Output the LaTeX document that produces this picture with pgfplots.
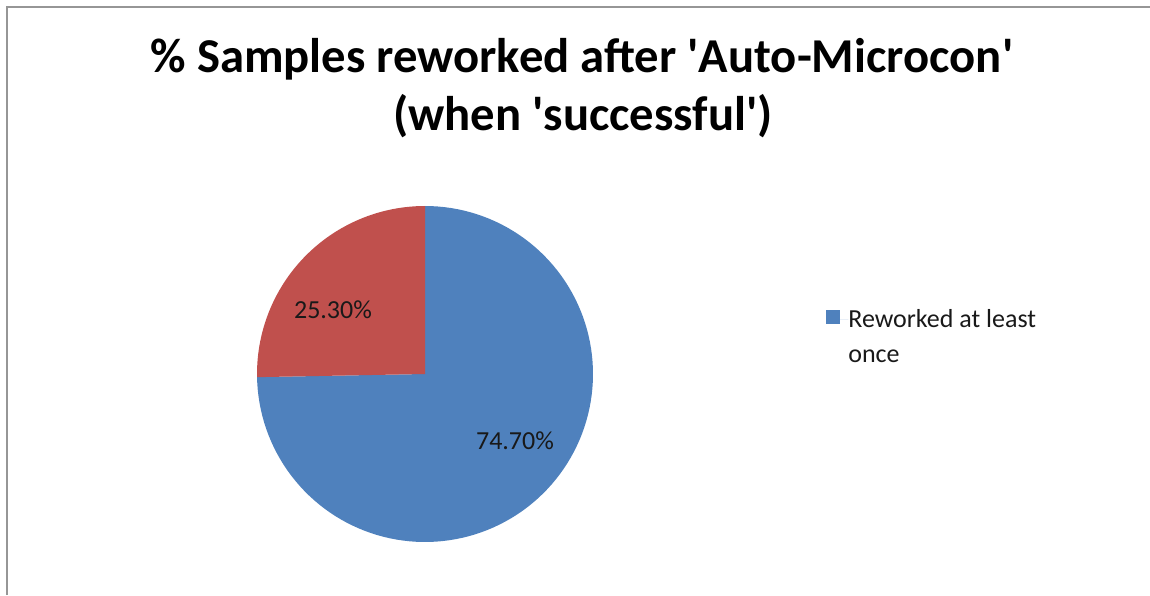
\documentclass[border=0pt]{standalone}
\usepackage{fontspec}
\setmainfont{Carlito}
\usepackage{pgfplots}
\usepackage{pgfplotstable}
\pgfplotsset{compat=1.18}
\definecolor{pieblue}{HTML}{4F81BD}
\definecolor{piered}{HTML}{C0504D}
\definecolor{framegray}{RGB}{150,150,150}
\pgfplotstableread{
label value
Reworked 74.7
Other 25.3
}\piedata
\begin{document}
\begin{tikzpicture}
\useasboundingbox (0,0) rectangle (690pt,357pt);
\pgfplotstablegetelem{0}{value}\of\piedata \let\va\pgfplotsretval
\pgfplotstablegetelem{1}{value}\of\piedata \let\vb\pgfplotsretval
\pgfmathsetmacro\angA{90+3.6*\vb}
\pgfmathsetmacro\angB{\angA+3.6*\va}
\begin{axis}[
  at={(0,0)}, anchor=south west,
  width=690pt, height=357pt, scale only axis,
  xmin=0, xmax=1150, ymin=0, ymax=595,
  hide axis, clip=false,
  legend style={at={(axis cs:826,286)}, anchor=north west, draw=none, fill=none,
    inner sep=0pt, column sep=0pt, nodes={inner sep=0pt},
    font=\fontsize{15.6}{21}\selectfont, text=black!90},
  legend cell align=left,
  legend image code/.code={\path (0pt,0pt) -- (13.2pt,0pt);
    \fill[#1] (0pt,-2.4pt) rectangle (8pt,5.8pt);},
]
\addplot[fill=pieblue, draw=none, domain=\angA:\angB, samples=120, variable=\t]
  ({425+168*cos(\t)},{221+168*sin(\t)}) -- (axis cs:425,221) -- cycle;
\addlegendentry{\parbox[t]{125pt}{\fontsize{15.6}{21}\selectfont Reworked at least\\once}}
\addplot[fill=piered, draw=none, domain=90:\angA, samples=60, variable=\t, forget plot]
  ({425+168*cos(\t)},{221+168*sin(\t)}) -- (axis cs:425,221) -- cycle;
\draw[framegray, line width=0.9pt] (axis cs:7,0) -- (axis cs:7,588) -- (axis cs:1150,588);
\node[anchor=base, font=\bfseries\fontsize{29.2}{35}\selectfont] at (axis cs:582,522)
  {\% Samples reworked after \textquotesingle Auto-Microcon\textquotesingle};
\node[anchor=base, font=\bfseries\fontsize{29.2}{35}\selectfont] at (axis cs:583,464)
  {(when \textquotesingle successful\textquotesingle)};
\node[font=\fontsize{15.6}{18}\selectfont, text=black!90] at (axis cs:333,285) {25.30\%};
\node[font=\fontsize{15.6}{18}\selectfont, text=black!90] at (axis cs:515,154) {74.70\%};
\end{axis}
\end{tikzpicture}
\end{document}
